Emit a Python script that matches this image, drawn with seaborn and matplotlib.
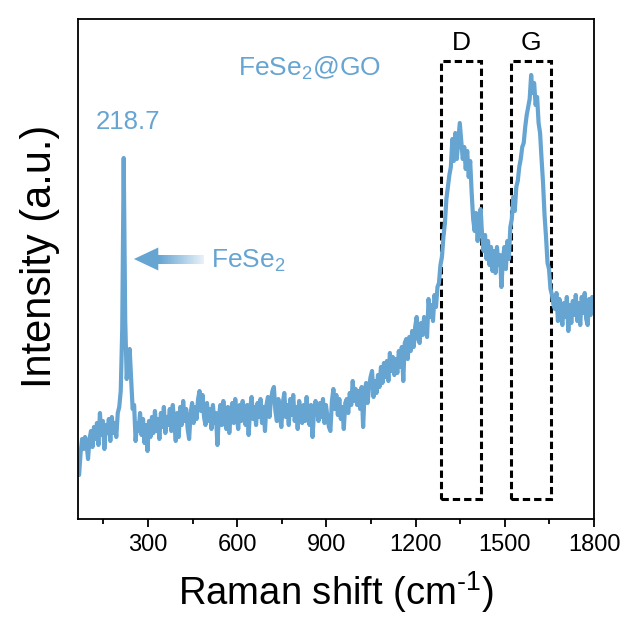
import numpy as np
import pandas as pd
import matplotlib
matplotlib.use("Agg")
import matplotlib.pyplot as plt
from matplotlib.patches import Polygon, Rectangle
import seaborn as sns

# ---- data (intensity in arbitrary units) ----
shift_start = 68.7
shift_step = 5.0
intensity = [
    44, 66, 80, 70, 82, 76, 60, 80, 88, 72, 92, 80, 96, 74, 106, 84, 98, 70, 94, 86,
    100, 78, 102, 86, 96, 82, 106, 112, 128, 190, 361, 200, 140, 160, 170, 140, 110, 114, 78, 96,
    88, 106, 84, 100, 76, 94, 68, 98, 82, 102, 86, 108, 88, 100, 80, 106, 92, 112, 86, 102,
    94, 110, 88, 114, 96, 78, 106, 82, 112, 94, 118, 98, 110, 90, 80, 106, 116, 96, 112, 100,
    120, 128, 108, 124, 102, 94, 116, 98, 110, 90, 114, 96, 106, 74, 102, 114, 94, 118, 100, 90,
    112, 86, 106, 116, 96, 120, 104, 90, 114, 98, 118, 102, 94, 114, 84, 110, 122, 100, 112, 94,
    116, 102, 120, 96, 112, 88, 114, 122, 102, 118, 128, 132, 108, 98, 120, 104, 92, 116, 126, 102,
    114, 94, 120, 104, 124, 98, 112, 90, 118, 104, 96, 114, 98, 122, 102, 94, 114, 82, 108, 118,
    110, 98, 116, 102, 120, 96, 114, 102, 92, 88, 118, 130, 110, 124, 104, 120, 100, 112, 90, 116,
    120, 106, 126, 114, 138, 118, 130, 114, 128, 110, 132, 92, 126, 136, 116, 132, 142, 148, 122, 138,
    126, 144, 132, 152, 136, 156, 142, 158, 138, 166, 148, 162, 144, 160, 146, 168, 152, 172, 138, 176,
    180, 160, 182, 168, 188, 172, 192, 202, 180, 176, 196, 184, 202, 190, 182, 220, 202, 214, 198, 224,
    212, 232, 236, 254, 262, 282, 296, 320, 332, 344, 352, 380, 358, 386, 360, 378, 396, 378, 360, 372,
    350, 368, 342, 358, 326, 300, 288, 306, 278, 298, 310, 284, 268, 284, 260, 278, 254, 272, 248, 268,
    246, 272, 254, 264, 232, 260, 272, 250, 278, 260, 292, 300, 322, 308, 332, 338, 352, 360, 372, 376,
    392, 404, 412, 420, 444, 426, 436, 414, 422, 396, 386, 360, 336, 304, 282, 256, 250, 230, 224, 214,
    210, 226, 198, 220, 204, 194, 216, 202, 222, 188, 214, 196, 218, 204, 224, 198, 216, 194, 222, 206,
    226, 200, 194, 220, 204, 222, 212,
]
raman_shift = shift_start + shift_step * np.arange(len(intensity))

xticks = [300, 600, 900, 1200, 1500, 1800]
peak_label = "218.7"
band_boxes = {"D": (1287, 1421), "G": (1521, 1656)}

df = pd.DataFrame({"shift": raman_shift, "intensity": intensity})

# ---- style ----
sns.set_style("ticks")
plt.rcParams["font.family"] = ["Liberation Sans", "DejaVu Sans"]
plt.rcParams["mathtext.fontset"] = "custom"
plt.rcParams["mathtext.rm"] = "Liberation Sans"
plt.rcParams["mathtext.it"] = "Liberation Sans:italic"
plt.rcParams["mathtext.default"] = "regular"
plt.rcParams["text.color"] = "black"
plt.rcParams["axes.labelcolor"] = "black"

blue = np.array([0x66, 0xa4, 0xd2]) / 255.0

fig = plt.figure(figsize=(6.27, 6.19), dpi=100)
ax = fig.add_axes([78 / 627, 1 - 519 / 619, (594 - 78) / 627, (519 - 19) / 619])

sns.lineplot(data=df, x="shift", y="intensity", ax=ax, color=blue, lw=3.0,
             estimator=None, sort=False)

ax.set_xlim(65, 1800)
ax.set_ylim(0, 500)
ax.set_xticks(xticks)
ax.set_xticks(np.arange(150, 1800, 300), minor=True)
ax.set_yticks([])
ax.tick_params(axis="x", which="major", direction="out", length=6, width=1.3,
               labelsize=17, pad=5, colors="black")
ax.tick_params(axis="x", which="minor", direction="out", length=3.5, width=1.3,
               colors="black")
for sp in ax.spines.values():
    sp.set_linewidth(1.3)
    sp.set_color("black")
    sp.set_visible(True)

ax.set_xlabel("Raman shift (cm$^{\\text{-1}}$)", fontsize=27.5, labelpad=9)
ax.set_ylabel("Intensity (a.u.)", fontsize=30)
ax.yaxis.set_label_coords(-0.035, 0.526)

# ---- D / G dashed boxes ----
for name, (x0, x1) in band_boxes.items():
    ax.add_patch(Rectangle((x0, 20), x1 - x0, 438, fill=False, ec="black",
                           lw=2.2, ls=(0, (2.4, 1.3))))
    ax.text((x0 + x1) / 2, 476, name, ha="center", va="center", fontsize=19,
            color="black")

# ---- annotations ----
ax.text(233, 397, peak_label, ha="center", va="center", fontsize=18.5, color=blue)
ax.text(843, 451, "FeSe$_2$@GO", ha="center", va="center", fontsize=19, color=blue)
ax.text(511, 258, "FeSe$_2$", ha="left", va="center", fontsize=19, color=blue)

# gradient arrow pointing at the FeSe2 peak
ay = 260
tip_x, base_x, end_x = 253, 334, 488
ax.add_patch(Polygon([[tip_x, ay], [base_x + 1, ay + 11.5], [base_x + 1, ay - 11.5]],
                     closed=True, fc=blue, ec="none", zorder=3))
n = 60
seg = (end_x - base_x) / n
for i in range(n):
    t = 0.85 * i / (n - 1)
    col = blue * (1 - t) + np.ones(3) * t
    ax.add_patch(Rectangle((base_x + i * seg, ay - 4.5), seg * 1.6, 9,
                           fc=col, ec="none", zorder=2.5 - i * 0.001))

fig.savefig("out.png", dpi=100)
